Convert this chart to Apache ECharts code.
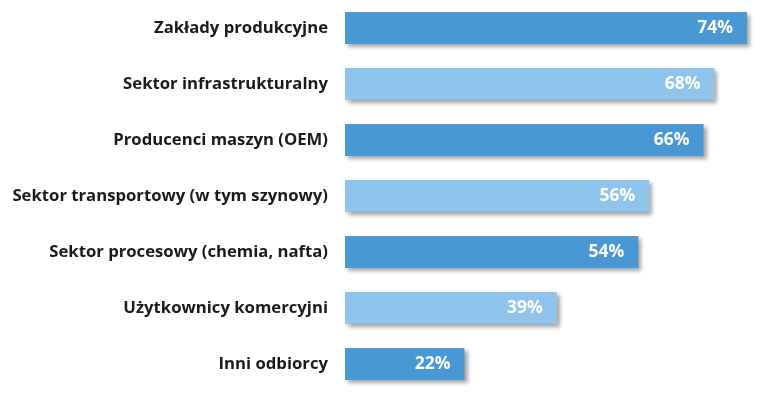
<!DOCTYPE html>
<html><head><meta charset="utf-8">
<script src="https://cdn.jsdelivr.net/npm/echarts@6/dist/echarts.min.js"></script>
<style>html,body{margin:0;padding:0;background:#fff}#c{width:764px;height:395px}</style>
</head><body><div id="c"></div>
<script>
var categories = ["Zakłady produkcyjne","Sektor infrastrukturalny","Producenci maszyn (OEM)","Sektor transportowy (w tym szynowy)","Sektor procesowy (chemia, nafta)","Użytkownicy komercyjni","Inni odbiorcy"];
var values = [74, 68, 66, 56, 54, 39, 22];
var colors = ["#4a98d3", "#8fc5ec"];

var chart = echarts.init(document.getElementById('c'));
chart.setOption({
  animation: false,
  grid: {left: 345, right: 17, top: 0, bottom: 3, containLabel: false},
  xAxis: {type: 'value', min: 0, max: 74, show: false},
  yAxis: {
    type: 'category', data: categories, inverse: true,
    axisLine: {show: false}, axisTick: {show: false},
    axisLabel: {margin: 17, color: '#1a1a1a', fontFamily: 'Open Sans', fontWeight: 'bold', fontSize: 16.7}
  },
  series: [{
    type: 'bar', barWidth: 32,
    data: values.map(function(v, i){ return {value: v, itemStyle: {color: colors[i % 2]}}; }),
    itemStyle: {shadowColor: 'rgba(0,0,0,0.35)', shadowBlur: 4, shadowOffsetX: 3, shadowOffsetY: 3},
    label: {show: true, position: 'insideRight', distance: 14, color: '#fff', fontFamily: 'Open Sans', fontWeight: 'bold', fontSize: 17.5, formatter: '{c}%'}
  }]
});
</script></body></html>
